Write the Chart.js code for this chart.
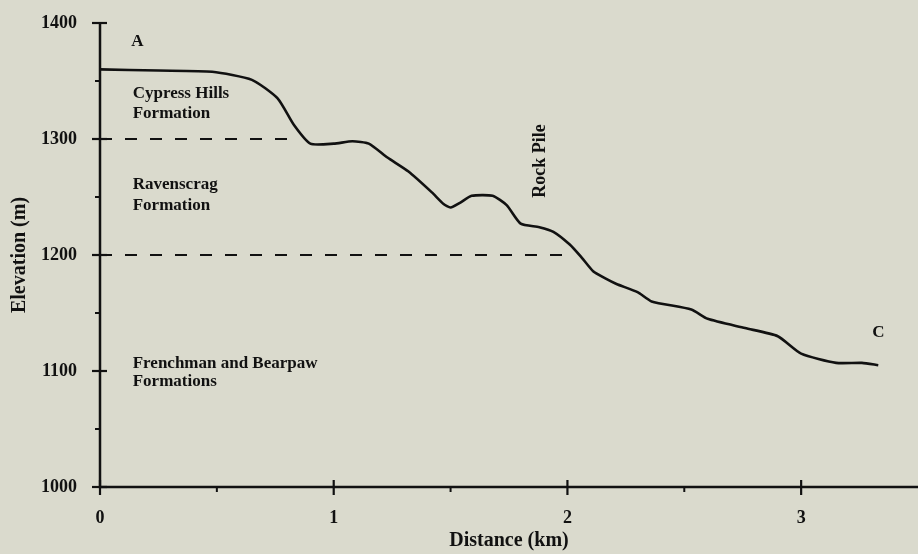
<!DOCTYPE html>
<html>
<head>
<meta charset="utf-8">
<script src="https://cdn.jsdelivr.net/npm/chart.js@4"></script>
<style>
  html, body { margin: 0; padding: 0; background: #dadacd; }
  #wrap { width: 918px; height: 554px; position: relative; }
</style>
</head>
<body>
<div id="wrap"><canvas id="c" width="918" height="554"></canvas></div>
<script>
// ---- data ----
const distanceKm = [0, 0.25, 0.48, 0.65, 0.76, 0.83, 0.9, 1.0, 1.08, 1.15, 1.23, 1.32, 1.42, 1.47, 1.5, 1.54, 1.59, 1.68, 1.74, 1.8, 1.88, 1.94, 2.01, 2.06, 2.11, 2.16, 2.21, 2.30, 2.36, 2.53, 2.60, 2.76, 2.90, 3.00, 3.15, 3.26, 3.33];
const elevationM = [1360, 1359, 1358, 1351, 1335, 1312, 1296, 1296, 1298, 1296, 1284, 1272, 1254, 1244, 1241, 1245, 1251, 1251, 1243, 1227, 1224, 1220, 1209, 1198, 1186, 1180, 1175, 1168, 1160, 1153, 1145, 1137, 1130, 1115, 1107, 1107, 1105];
const boundaryElev = [1300, 1200];
const boundaryEndKm = [0.85, 2.0];
const xMajorTicks = [0, 1, 2, 3];
const xMinorTicks = [0.5, 1.5, 2.5];
const yMajorTicks = [1000, 1100, 1200, 1300, 1400];
const yMinorTicks = [1050, 1150, 1250, 1350];
const xTitle = 'Distance (km)';
const yTitle = 'Elevation (m)';
// annotations: [text, xKm, yM, align, rotate]
const labelTexts = [
  ['A', 0.16, 1384, 'center', false],
  ['Cypress Hills', 0.14, 1339, 'left', false],
  ['Formation', 0.14, 1322, 'left', false],
  ['Ravenscrag', 0.14, 1261, 'left', false],
  ['Formation', 0.14, 1243, 'left', false],
  ['Frenchman and Bearpaw', 0.14, 1106, 'left', false],
  ['Formations', 0.14, 1091, 'left', false],
  ['Rock Pile', 1.883, 1281, 'center', true],
  ['C', 3.33, 1133, 'center', false]
];

const serif = '"Liberation Serif", "DejaVu Serif", serif';

const profile = distanceKm.map((x, i) => ({ x: x, y: elevationM[i] }));
const boundarySets = boundaryElev.map((e, i) => ({
  data: [{ x: 0, y: e }, { x: boundaryEndKm[i], y: e }],
  borderColor: '#111',
  borderWidth: 2.2,
  borderDash: [12, 13],
  pointRadius: 0,
  showLine: true,
  fill: false
}));

const decoPlugin = {
  id: 'deco',
  beforeDraw(chart) {
    const ctx = chart.ctx;
    ctx.save();
    ctx.fillStyle = '#dadacd';
    ctx.fillRect(0, 0, chart.width, chart.height);
    ctx.restore();
  },
  afterDraw(chart) {
    const ctx = chart.ctx;
    const xs = chart.scales.x, ys = chart.scales.y;
    const ax = xs.left, ay = ys.bottom;
    ctx.save();
    ctx.strokeStyle = '#111';
    ctx.lineWidth = 2.5;
    ctx.beginPath();
    ctx.moveTo(ax, ys.top); ctx.lineTo(ax, ay); ctx.lineTo(xs.right, ay);
    ctx.stroke();
    ctx.lineWidth = 2.2;
    xMajorTicks.forEach(v => {
      const px = xs.getPixelForValue(v);
      ctx.beginPath(); ctx.moveTo(px, ay - 7); ctx.lineTo(px, ay + 8); ctx.stroke();
    });
    yMajorTicks.forEach(v => {
      const py = ys.getPixelForValue(v);
      ctx.beginPath(); ctx.moveTo(ax - 8, py); ctx.lineTo(ax + 7, py); ctx.stroke();
    });
    ctx.lineWidth = 2;
    xMinorTicks.forEach(v => {
      const px = xs.getPixelForValue(v);
      ctx.beginPath(); ctx.moveTo(px, ay); ctx.lineTo(px, ay + 5); ctx.stroke();
    });
    yMinorTicks.forEach(v => {
      const py = ys.getPixelForValue(v);
      ctx.beginPath(); ctx.moveTo(ax - 5, py); ctx.lineTo(ax, py); ctx.stroke();
    });
    ctx.fillStyle = '#111';
    ctx.textBaseline = 'middle';
    labelTexts.forEach(([t, x, y, align, rot]) => {
      const px = xs.getPixelForValue(x), py = ys.getPixelForValue(y);
      if (rot) {
        ctx.font = 'bold 18px ' + serif;
        ctx.save();
        ctx.translate(px, py);
        ctx.rotate(-Math.PI / 2);
        ctx.textAlign = 'center';
        ctx.fillText(t, 0, 0);
        ctx.restore();
      } else {
        ctx.font = 'bold 17px ' + serif;
        ctx.textAlign = align;
        ctx.fillText(t, px, py);
      }
    });
    ctx.font = 'bold 20px ' + serif;
    ctx.textAlign = 'center';
    ctx.fillText(xTitle, (xs.left + xs.right) / 2, 541);
    ctx.save();
    ctx.translate(20, (ys.top + ys.bottom) / 2);
    ctx.rotate(-Math.PI / 2);
    ctx.fillText(yTitle, 0, 0);
    ctx.restore();
    ctx.restore();
  }
};

new Chart(document.getElementById('c'), {
  type: 'scatter',
  data: {
    datasets: [{
      data: profile,
      borderColor: '#111',
      borderWidth: 2.6,
      pointRadius: 0,
      showLine: true,
      tension: 0.2,
      fill: false
    }].concat(boundarySets)
  },
  options: {
    responsive: false,
    animation: false,
    layout: { padding: { top: 0, right: 0, left: 0, bottom: 0 } },
    plugins: { legend: { display: false }, tooltip: { enabled: false } },
    scales: {
      x: {
        type: 'linear', min: 0, max: 3.5,
        afterBuildTicks: s => { s.ticks = xMajorTicks.map(v => ({ value: v })); },
        afterFit: s => { s.height = 67; },
        grid: { display: false },
        border: { display: false },
        ticks: { color: '#111', padding: 13, font: { family: serif, size: 18, weight: 'bold' }, maxRotation: 0, callback: v => String(v) }
      },
      y: {
        type: 'linear', min: 1000, max: 1400,
        afterBuildTicks: s => { s.ticks = yMajorTicks.map(v => ({ value: v })); },
        afterFit: s => { s.width = 100; s.paddingTop = 23; },
        grid: { display: false },
        border: { display: false },
        ticks: { color: '#111', padding: 15, font: { family: serif, size: 18, weight: 'bold' }, callback: v => String(v) }
      }
    }
  },
  plugins: [decoPlugin]
});
</script>
</body>
</html>
